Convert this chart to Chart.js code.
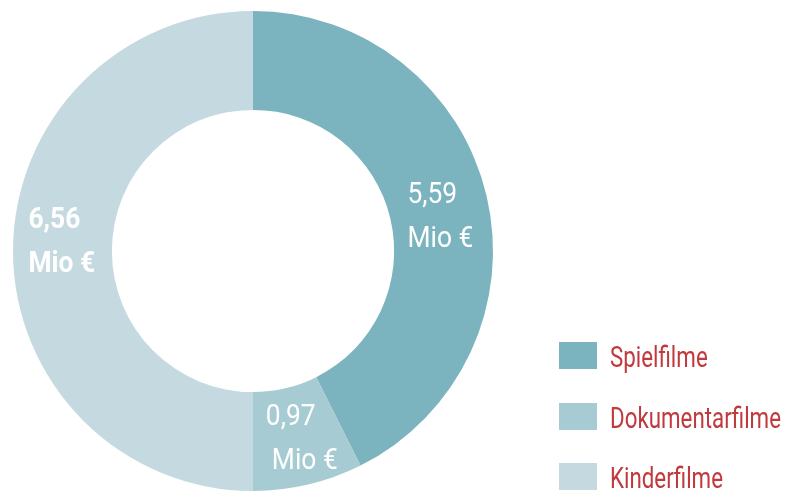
<!DOCTYPE html>
<html>
<head>
<meta charset="utf-8">
<script src="https://cdn.jsdelivr.net/npm/chart.js@4/dist/chart.umd.min.js"></script>
<style>
  html, body { margin: 0; padding: 0; background: #fff; }
  #wrap { position: relative; width: 789px; height: 491px; }
  canvas { position: absolute; left: 0; top: 0; }
  .leg { position: absolute; left: 559px; font-family: Roboto, "DejaVu Sans Condensed", sans-serif; font-size: 29px; color: #c1393d; }
  .leg .box { position: absolute; left: 0; top: 0; width: 38px; height: 27px; }
  .leg .txt { position: absolute; left: 51px; top: -2px; line-height: 34px; white-space: nowrap; transform: scaleX(0.77); transform-origin: 0 0; }
</style>
</head>
<body>
<div id="wrap">
  <canvas id="c" width="789" height="491"></canvas>
</div>
<script>
const categories = ["Spielfilme", "Dokumentarfilme", "Kinderfilme"];
const values = [5.59, 0.97, 6.56];
const valueLabels = ["5,59", "0,97", "6,56"];
const unitLabel = "Mio €";
const colors = ["#7bb4bf", "#a6cbd3", "#c4d9e0"];

const FONT = 'Roboto, "DejaVu Sans Condensed", sans-serif';
const SQUEEZE = 0.88;

// label placement tweaks relative to arc midpoint (dx of left edge, dy of first baseline)
const labelStyle = [
  { dx: -31, dy: -4, bold: false },
  { dx: -31, dy: -11, bold: false, dx2: 6 },
  { dx: -34, dy: -23, bold: true }
];

const labelPlugin = {
  id: 'labels',
  afterDatasetsDraw(chart) {
    const ctx = chart.ctx;
    const meta = chart.getDatasetMeta(0);
    meta.data.forEach((arc, i) => {
      const p = arc.tooltipPosition();
      const s = labelStyle[i];
      const x = p.x + s.dx;
      const y = p.y + s.dy;
      ctx.save();
      ctx.fillStyle = '#ffffff';
      ctx.font = (s.bold ? 'bold ' : '') + '30px ' + FONT;
      ctx.textAlign = 'left';
      ctx.textBaseline = 'alphabetic';
      ctx.translate(x, y);
      ctx.scale(SQUEEZE, 1);
      ctx.fillText(valueLabels[i], 0, 0);
      ctx.fillText(unitLabel, (s.dx2 || 0) / SQUEEZE, 44);
      ctx.restore();
    });
  }
};

new Chart(document.getElementById('c'), {
  type: 'doughnut',
  data: {
    labels: categories,
    datasets: [{
      data: values,
      backgroundColor: colors,
      borderWidth: 0
    }]
  },
  options: {
    responsive: false,
    animation: false,
    cutout: '58.8%',
    layout: { padding: { left: 13, top: 11, right: 296, bottom: 0 } },
    plugins: {
      legend: { display: false },
      tooltip: { enabled: false }
    }
  },
  plugins: [labelPlugin]
});

// legend built from the arrays
const wrap = document.getElementById('wrap');
const legTops = [342, 403, 463];
categories.forEach((name, i) => {
  const d = document.createElement('div');
  d.className = 'leg';
  d.style.top = legTops[i] + 'px';
  const b = document.createElement('div');
  b.className = 'box';
  b.style.background = colors[i];
  const t = document.createElement('div');
  t.className = 'txt';
  t.textContent = name;
  d.appendChild(b); d.appendChild(t);
  wrap.appendChild(d);
});
</script>
</body>
</html>
